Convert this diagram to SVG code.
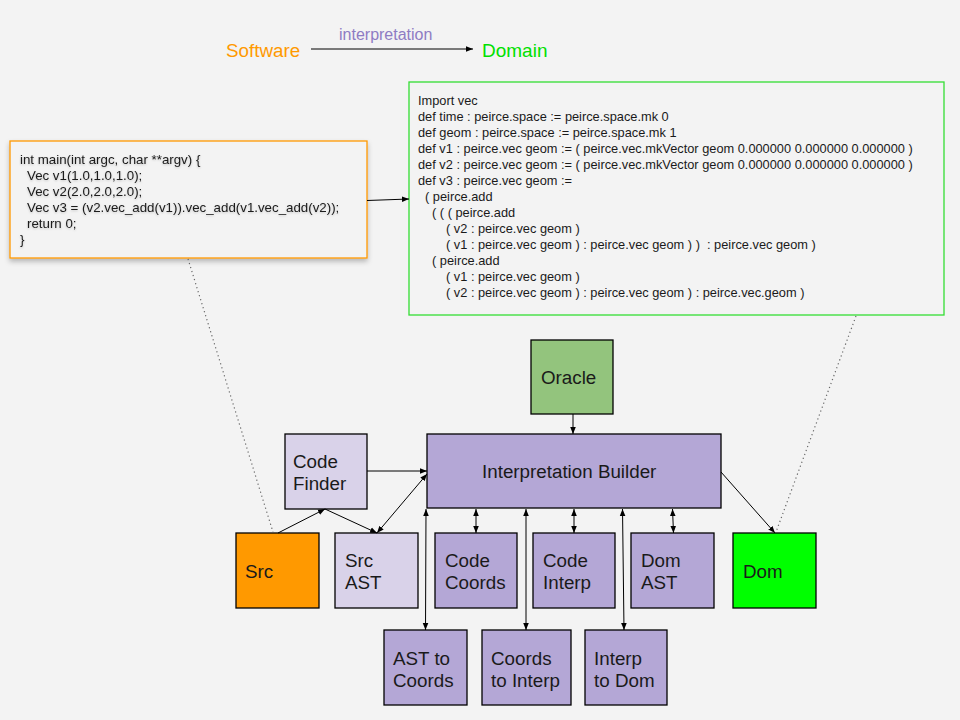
<svg xmlns="http://www.w3.org/2000/svg" width="960" height="720" viewBox="0 0 960 720">
  <defs>
    <marker id="arr" viewBox="0 0 10 10" refX="10" refY="5" markerWidth="7" markerHeight="7" markerUnits="userSpaceOnUse" orient="auto-start-reverse">
      <path d="M0,1 L10,5 L0,9 z" fill="#000"/>
    </marker>
    <filter id="shadow" x="-5%" y="-10%" width="110%" height="125%">
      <feDropShadow dx="0" dy="3" stdDeviation="2.5" flood-color="#000" flood-opacity="0.25"/>
    </filter>
    <filter id="soft" x="-5%" y="-10%" width="110%" height="125%">
      <feDropShadow dx="0" dy="1" stdDeviation="0.8" flood-color="#000" flood-opacity="0.2"/>
    </filter>
  </defs>
  <style>
    text { font-family: "Liberation Sans", Arial, sans-serif; }
    .box { stroke: #000; stroke-width: 1.3; }
    .lbl { font-size: 18.8px; fill: #1a1a1a; }
    .code { font-size: 12.8px; fill: #1a1a1a; }
    .src { font-size: 13.3px; fill: #1a1a1a; }
    .edge { stroke: #000; stroke-width: 1; fill: none; }
    .dot { stroke: #666; stroke-width: 1.2; stroke-dasharray: 1.2 3; fill: none; }
  </style>

  <rect width="960" height="720" fill="#f3f3f3"/>

  <!-- title legend -->
  <g id="legend">
    <text x="226" y="57" font-size="18.8" fill="#ff9900">Software</text>
    <text x="339" y="40" font-size="16" fill="#8e7cc3">interpretation</text>
    <line x1="311" y1="49" x2="473" y2="49" class="edge" marker-end="url(#arr)"/>
    <text x="482" y="57" font-size="19" fill="#00e000">Domain</text>
  </g>

  <!-- source snippet -->
  <g id="src-code">
    <rect x="10" y="141" width="357" height="117" fill="#f3f3f3" stroke="#ff9900" stroke-width="1.3" filter="url(#shadow)"/>
    <g class="src" filter="url(#soft)">
      <text x="20" y="164">int main(int argc, char **argv) {</text>
      <text x="27" y="180">Vec v1(1.0,1.0,1.0);</text>
      <text x="27" y="196">Vec v2(2.0,2.0,2.0);</text>
      <text x="27" y="212">Vec v3 = (v2.vec_add(v1)).vec_add(v1.vec_add(v2));</text>
      <text x="27" y="228">return 0;</text>
      <text x="20" y="244">}</text>
    </g>
  </g>

  <!-- generated domain code -->
  <g id="dom-code">
    <rect x="409" y="82" width="535" height="233" fill="#f3f3f3" stroke="#33dd33" stroke-width="1.3"/>
    <g class="code">
      <text x="418" y="105">Import vec</text>
      <text x="418" y="121">def time : peirce.space := peirce.space.mk 0</text>
      <text x="418" y="137">def geom : peirce.space := peirce.space.mk 1</text>
      <text x="418" y="153">def v1 : peirce.vec geom := ( peirce.vec.mkVector geom 0.000000 0.000000 0.000000 )</text>
      <text x="418" y="169">def v2 : peirce.vec geom := ( peirce.vec.mkVector geom 0.000000 0.000000 0.000000 )</text>
      <text x="418" y="185">def v3 : peirce.vec geom :=</text>
      <text x="425" y="201">( peirce.add</text>
      <text x="432" y="217">( ( ( peirce.add</text>
      <text x="446" y="233">( v2 : peirce.vec geom )</text>
      <text x="446" y="249" xml:space="preserve">( v1 : peirce.vec geom ) : peirce.vec geom ) )  : peirce.vec geom )</text>
      <text x="432" y="265">( peirce.add</text>
      <text x="446" y="281">( v1 : peirce.vec geom )</text>
      <text x="446" y="297">( v2 : peirce.vec geom ) : peirce.vec geom ) : peirce.vec.geom )</text>
    </g>
  </g>

  <!-- nodes -->
  <g id="oracle">
    <rect x="531" y="340" width="82" height="74" fill="#93c47d" class="box"/>
    <text x="541" y="384" class="lbl">Oracle</text>
  </g>
  <g id="interp-builder">
    <rect x="427" y="434" width="294" height="74" fill="#b4a7d6" class="box"/>
    <text x="482" y="478" class="lbl">Interpretation Builder</text>
  </g>
  <g id="code-finder">
    <rect x="285" y="434" width="82" height="75" fill="#d9d2e9" class="box"/>
    <text x="293" y="468" class="lbl">Code</text>
    <text x="293" y="490" class="lbl">Finder</text>
  </g>
  <g id="src">
    <rect x="236" y="533" width="83" height="75" fill="#ff9900" class="box"/>
    <text x="245" y="578" class="lbl">Src</text>
  </g>
  <g id="src-ast">
    <rect x="335" y="533" width="83" height="75" fill="#d9d2e9" class="box"/>
    <text x="345" y="567" class="lbl">Src</text>
    <text x="345" y="589" class="lbl">AST</text>
  </g>
  <g id="code-coords">
    <rect x="435" y="533" width="82" height="75" fill="#b4a7d6" class="box"/>
    <text x="445" y="567" class="lbl">Code</text>
    <text x="445" y="589" class="lbl">Coords</text>
  </g>
  <g id="code-interp">
    <rect x="533" y="533" width="82" height="75" fill="#b4a7d6" class="box"/>
    <text x="543" y="567" class="lbl">Code</text>
    <text x="543" y="589" class="lbl">Interp</text>
  </g>
  <g id="dom-ast">
    <rect x="631" y="533" width="83" height="75" fill="#b4a7d6" class="box"/>
    <text x="641" y="567" class="lbl">Dom</text>
    <text x="641" y="589" class="lbl">AST</text>
  </g>
  <g id="dom">
    <rect x="733" y="533" width="83" height="75" fill="#00ff00" class="box"/>
    <text x="743" y="578" class="lbl">Dom</text>
  </g>
  <g id="ast-to-coords">
    <rect x="384" y="630" width="83" height="75" fill="#b4a7d6" class="box"/>
    <text x="393" y="665" class="lbl">AST to</text>
    <text x="393" y="687" class="lbl">Coords</text>
  </g>
  <g id="coords-to-interp">
    <rect x="482" y="630" width="89" height="75" fill="#b4a7d6" class="box"/>
    <text x="491" y="665" class="lbl">Coords</text>
    <text x="491" y="687" class="lbl">to Interp</text>
  </g>
  <g id="interp-to-dom">
    <rect x="585" y="630" width="82" height="75" fill="#b4a7d6" class="box"/>
    <text x="594" y="665" class="lbl">Interp</text>
    <text x="594" y="687" class="lbl">to Dom</text>
  </g>

  <!-- connectors -->
  <g id="connectors">
    <line x1="367" y1="200.5" x2="409" y2="199" class="edge" marker-end="url(#arr)"/>
    <line x1="188" y1="259" x2="273" y2="532" class="dot"/>
    <line x1="856" y1="316" x2="776" y2="532" class="dot"/>
    <line x1="573" y1="414" x2="573" y2="434" class="edge" marker-end="url(#arr)"/>
    <line x1="278" y1="533" x2="325" y2="509" class="edge" marker-end="url(#arr)"/>
    <line x1="325" y1="509" x2="377" y2="533" class="edge" marker-end="url(#arr)"/>
    <line x1="367" y1="471" x2="427" y2="471" class="edge" marker-end="url(#arr)"/>
    <line x1="377" y1="533" x2="427" y2="474" class="edge" marker-start="url(#arr)" marker-end="url(#arr)"/>
    <line x1="476" y1="509" x2="476" y2="533" class="edge" marker-start="url(#arr)" marker-end="url(#arr)"/>
    <line x1="574" y1="509" x2="574" y2="533" class="edge" marker-start="url(#arr)" marker-end="url(#arr)"/>
    <line x1="672.5" y1="509" x2="673.5" y2="533" class="edge" marker-start="url(#arr)" marker-end="url(#arr)"/>
    <line x1="426" y1="509" x2="425.5" y2="630" class="edge" marker-start="url(#arr)" marker-end="url(#arr)"/>
    <line x1="526" y1="509" x2="526" y2="630" class="edge" marker-start="url(#arr)" marker-end="url(#arr)"/>
    <line x1="622.5" y1="509" x2="624" y2="630" class="edge" marker-start="url(#arr)" marker-end="url(#arr)"/>
    <line x1="721" y1="472" x2="775" y2="533" class="edge" marker-end="url(#arr)"/>
  </g>
</svg>
